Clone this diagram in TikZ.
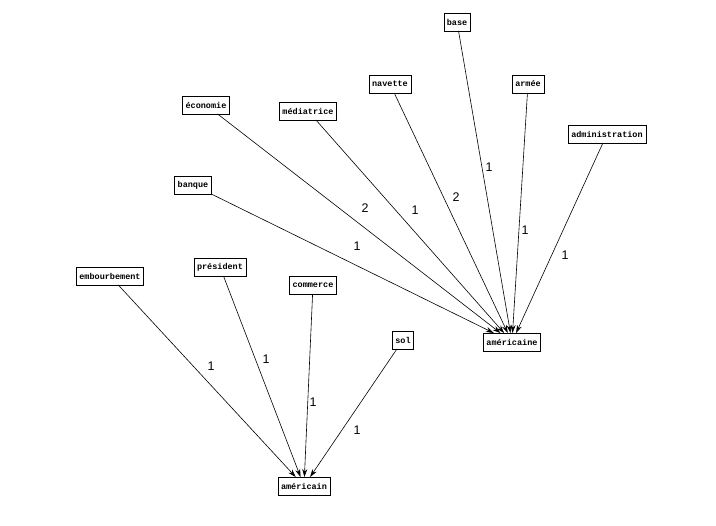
\documentclass[tikz,border=0pt]{standalone}
\usepackage{fontspec}
\setmainfont{Liberation Sans}
\newfontfamily\wordfont{Liberation Mono}
\usetikzlibrary{arrows.meta}
\begin{document}
\begin{tikzpicture}[x=1pt,y=-1pt,
        word/.style={draw,fill=white,font=\wordfont\fontsize{8.5}{9}\selectfont\bfseries,
            inner xsep=3pt,minimum height=17.5pt},
        link/.style={-{Stealth[length=8pt,width=5pt]},line width=0.6pt},
        weight/.style={font=\fontsize{12.5}{12.5}\selectfont}]
        \useasboundingbox[fill=white] (0,0) rectangle (716,526);

        % Targets
        \node[word] (americaine) at (512,342) {américaine};
        \node[word] (americain) at (304,486) {américain};

        % Words around américaine
        \node[word] (base) at (457,22) {base};
        \node[word] (navette) at (390,84) {navette};
        \node[word] (armee) at (528,84) {armée};
        \node[word] (economie) at (206,105) {économie};
        \node[word] (mediatrice) at (308,111) {médiatrice};
        \node[word] (administration) at (607,134) {administration};
        \node[word] (banque) at (193,185) {banque};

        % Words around américain
        \node[word] (embourbement) at (110,276) {embourbement};
        \node[word] (president) at (220,267) {président};
        \node[word] (commerce) at (313,285) {commerce};
        \node[word] (sol) at (403,340) {sol};

        % Links
        \draw[link] (economie) -- (americaine);
        \draw[link] (mediatrice) -- (americaine);
        \draw[link] (navette) -- (americaine);
        \draw[link] (base) -- (americaine);
        \draw[link] (armee) -- (americaine);
        \draw[link] (administration) -- (americaine);
        \draw[link] (banque) -- (americaine);
        \draw[link] (embourbement) -- (americain);
        \draw[link] (president) -- (americain);
        \draw[link] (commerce) -- (americain);
        \draw[link] (sol) -- (americain);

        % Weights
        \node[weight] (w-economie) at (365,208) {2};
        \node[weight] (w-mediatrice) at (415,210) {1};
        \node[weight] (w-navette) at (456,197) {2};
        \node[weight] (w-base) at (489,167) {1};
        \node[weight] (w-armee) at (525,230) {1};
        \node[weight] (w-administration) at (565,255) {1};
        \node[weight] (w-banque) at (357,246) {1};
        \node[weight] (w-embourbement) at (211,366) {1};
        \node[weight] (w-president) at (266,359) {1};
        \node[weight] (w-commerce) at (313,402) {1};
        \node[weight] (w-sol) at (357,430) {1};
    \end{tikzpicture}
\end{document}
